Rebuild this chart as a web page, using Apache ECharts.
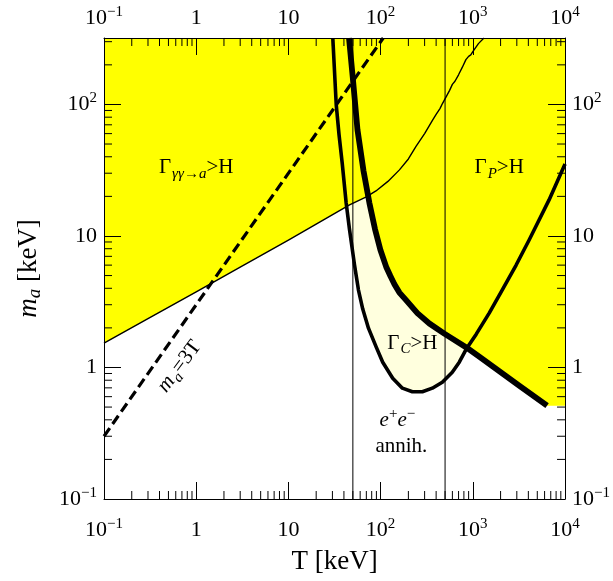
<!DOCTYPE html>
<html><head><meta charset="utf-8">
<script src="https://cdn.jsdelivr.net/npm/echarts@6/dist/echarts.min.js"></script>
<style>html,body{margin:0;padding:0;background:#fff}#c{width:613px;height:581px}</style>
</head><body><div id="c"></div>
<script>
const FONT = '"Liberation Serif","DejaVu Serif",serif';

// axis ranges (keV)
const xRange = [0.1, 10000];
const yRange = [0.1, 320];

// decade tick labels
const tickExps = [-1, 0, 1, 2, 3, 4];
const tickLabels = ['10{sup|\u22121}', '1', '10', '10{sup|2}', '10{sup|3}', '10{sup|4}'];

// Γ_{γγ→a} = H boundary (thin line)  [T, m_a]
const gammaLine = [[0.1,1.53],[0.3,2.35],[1,3.75],[3,5.8],[10,9.3],[20,12.3],[46,17.2],[70,19.8],[89,22],
  [120,26],[160,31.8],[200,38.5],[242,48],[300,60],[366,76],[400,84],[420,86],[440,93],[470,102],[520,116],[560,128],
  [600,142],[640,150],[700,168],[770,192],[841,219],[900,232],[950,238],[1000,252],[1150,290],[1320,320]];

// m_a = 3T (dashed)
const massLine = [[0.1,0.3],[106.7,320]];

// Γ_C = H boundary (U-shaped curve)
const comptonLine = [[30.3,320],[33.0,99.5],[35.4,58.8],[38.3,35.9],[42.3,17.8],[45.9,11.3],[52.1,6.01],
  [57.5,3.88],[64.0,2.78],[73.8,1.99],[89.4,1.435],[105.4,1.097],[135.2,0.829],[172.2,0.696],[220.9,0.654],
  [283.5,0.654],[363.6,0.696],[466.5,0.773],[598.6,0.921],[712.7,1.097],[848.5,1.38],[1088.6,1.793],
  [1504.8,2.59],[2080,3.88],[2949,6.01],[4078,9.32],[6711,18.8],[10000,35.3]];

// Γ_P = H boundary (thickest curve)
const primakoffLine = [[45.4,320],[49.9,159.7],[56.1,64.2],[65.2,31.3],[75.6,17.8],[86.8,11.3],[99.5,7.82],
  [114.7,5.84],[127.6,4.96],[141.1,4.3],[159.7,3.71],[188.8,3.25],[250.2,2.59],[337.5,2.16],[490.4,1.81],
  [842.1,1.427],[1173,1.209],[1931,0.937],[3178,0.727],[6386,0.512]];

// lower edge of the yellow (excluded) region
const yellowEdge = [[0.1,1.53],[0.3,2.35],[1,3.75],[3,5.8],[10,9.3],[20,12.3],[46,17.2],[70,19.8],[73,20.1],
  [75.6,17.8],[86.8,11.3],[99.5,7.82],[114.7,5.84],[127.6,4.96],[141.1,4.3],[159.7,3.71],[188.8,3.25],
  [250.2,2.59],[337.5,2.16],[490.4,1.81],[842.1,1.427],[1173,1.209],[1931,0.937],[3178,0.727],[6386,0.512],
  [10000,0.512]];

// vertical reference lines (e+e- annihilation window)
const annihLines = [50, 500];

// minor ticks 2..9 per decade
const minorX = [], minorY = [];
for (let e = -1; e <= 4; e++) for (let j = 2; j <= 9; j++) {
  const v = j * Math.pow(10, e);
  if (v > xRange[0] && v < xRange[1]) minorX.push(v);
  if (v > yRange[0] && v < yRange[1]) minorY.push(v);
}

// annotations (data coordinates)
const notes = [
  {text: '{b|\u0393}{s|\u03b3\u03b3\u2192a}{b|>H}', at: [1.0, 33], rot: 0},
  {text: '{b|\u0393}{s|P}{b|>H}', at: [1930, 33], rot: 0},
  {text: '{b|\u0393}{s|C}{b|>H}', at: [221, 1.53], rot: 0},
  {text: '{i|e}{u|+}{i|e}{u|\u2212}', at: [152, 0.395], rot: 0},
  {text: '{b|annih.}', at: [168, 0.25], rot: 0},
  {text: '{i|m}{s|a}{b|=3T}', at: [0.66, 1.02], rot: 53}
];

const richText = {
  b: {fontSize: 21, fontFamily: FONT, color: '#000', lineHeight: 26},
  i: {fontSize: 21, fontFamily: FONT, fontStyle: 'italic', color: '#000', lineHeight: 26},
  s: {fontSize: 15, fontFamily: FONT, fontStyle: 'italic', color: '#000', lineHeight: 15, padding: [12,0,0,1]},
  u: {fontSize: 15, fontFamily: FONT, color: '#000', lineHeight: 15, padding: [0,0,12,0]}
};

function labelFmt(v) {
  const lg = Math.log10(v);
  const e = Math.round(lg);
  if (Math.abs(lg - e) > 1e-6) return '';
  const k = tickExps.indexOf(e);
  return k < 0 ? '' : tickLabels[k];
}

const labelRich = {sup: {fontSize: 15, fontFamily: FONT, color: '#000', lineHeight: 15, padding: [0,0,12,0]}};

function makeAxis(kind, pos, range) {
  return {
    type: 'log', logBase: 10, min: range[0], max: range[1], position: pos, z: 10,
    axisLine: {show: true, onZero: false, lineStyle: {color: '#000', width: 1}},
    axisTick: {show: true, inside: true, length: 17, lineStyle: {color: '#000', width: 1}},
    minorTick: {show: false}, splitLine: {show: false},
    axisLabel: {formatter: labelFmt, rich: labelRich, fontSize: 22, fontFamily: FONT, color: '#000',
      lineHeight: 26, margin: kind === 'x' ? (pos === 'bottom' ? 18 : 7) : 7}
  };
}

const xBottom = makeAxis('x', 'bottom', xRange);
xBottom.name = 'T [keV]';
xBottom.nameLocation = 'middle';
xBottom.nameGap = 48;
xBottom.nameTextStyle = {fontSize: 27, fontFamily: FONT, color: '#000'};
const xTop = makeAxis('x', 'top', xRange);
const yLeft = makeAxis('y', 'left', yRange);
yLeft.name = '{i|m}{s|a}{b| [keV]}';
yLeft.nameLocation = 'middle';
yLeft.nameGap = 60;
yLeft.nameTextStyle = {fontSize: 27, fontFamily: FONT, color: '#000', rich: {
  i: {fontSize: 27, fontFamily: FONT, fontStyle: 'italic', color: '#000', lineHeight: 30},
  b: {fontSize: 27, fontFamily: FONT, color: '#000', lineHeight: 30},
  s: {fontSize: 19, fontFamily: FONT, fontStyle: 'italic', color: '#000', lineHeight: 19, padding: [12,0,0,0]}
}};
const yRight = makeAxis('y', 'right', yRange);

function polygonSeries(points, color, z) {
  return {
    type: 'custom', data: [[1, 1]], silent: true, z: z,
    renderItem: function (params, api) {
      const all = points.concat([[xRange[1], yRange[1]], [points[0][0], yRange[1]]]);
      return {type: 'polygon', shape: {points: all.map(p => api.coord(p))},
        style: {fill: color, stroke: null}};
    }
  };
}

function lineSeries(data, width, type, z) {
  return {
    type: 'line', data: data, showSymbol: false, symbol: 'none', silent: true, z: z,
    smooth: false, clip: true,
    lineStyle: {color: '#000', width: width, type: type || 'solid', cap: 'butt', join: 'round'}
  };
}

const series = [
  polygonSeries(comptonLine, '#ffffde', 1),
  polygonSeries(yellowEdge, '#ffff00', 2)
];
annihLines.forEach(t => series.push(lineSeries([[t, yRange[0]], [t, yRange[1]]], 1, 'solid', 3)));
series.push(lineSeries(gammaLine, 1.4, 'solid', 4));
series.push(lineSeries(massLine, 3.2, [10, 5], 4));
series.push(lineSeries(comptonLine, 3.6, 'solid', 4));
series.push(lineSeries(primakoffLine, 5.8, 'solid', 4));
series.push({
  type: 'custom', data: [[1, 1]], silent: true, z: 5,
  renderItem: function (params, api) {
    const cs = params.coordSys;
    const top = cs.y, bot = cs.y + cs.height, lft = cs.x, rgt = cs.x + cs.width;
    const ch = [];
    const st = {stroke: '#000', lineWidth: 1};
    minorX.forEach(v => {
      const px = api.coord([v, 1])[0];
      ch.push({type: 'line', shape: {x1: px, y1: bot, x2: px, y2: bot - 8}, style: st});
      ch.push({type: 'line', shape: {x1: px, y1: top, x2: px, y2: top + 8}, style: st});
    });
    minorY.forEach(v => {
      const py = api.coord([1, v])[1];
      ch.push({type: 'line', shape: {x1: lft, y1: py, x2: lft + 8, y2: py}, style: st});
      ch.push({type: 'line', shape: {x1: rgt, y1: py, x2: rgt - 8, y2: py}, style: st});
    });
    return {type: 'group', children: ch};
  }
});
series.push({
  type: 'custom', data: [[1, 1]], silent: true, z: 6,
  renderItem: function (params, api) {
    return {type: 'group', children: notes.map(n => {
      const p = api.coord(n.at);
      return {type: 'text', x: p[0], y: p[1], rotation: n.rot * Math.PI / 180,
        style: {text: n.text, rich: richText, align: 'center', verticalAlign: 'middle',
          fontFamily: FONT, fontSize: 21, fill: '#000'}};
    })};
  }
});

const chart = echarts.init(document.getElementById('c'), null, {renderer: 'canvas'});
chart.setOption({
  animation: false,
  backgroundColor: '#fff',
  grid: {left: 104, right: 47, top: 38, bottom: 82, containLabel: false},
  xAxis: [xBottom, xTop],
  yAxis: [yLeft, yRight],
  series: series
});
</script></body></html>
